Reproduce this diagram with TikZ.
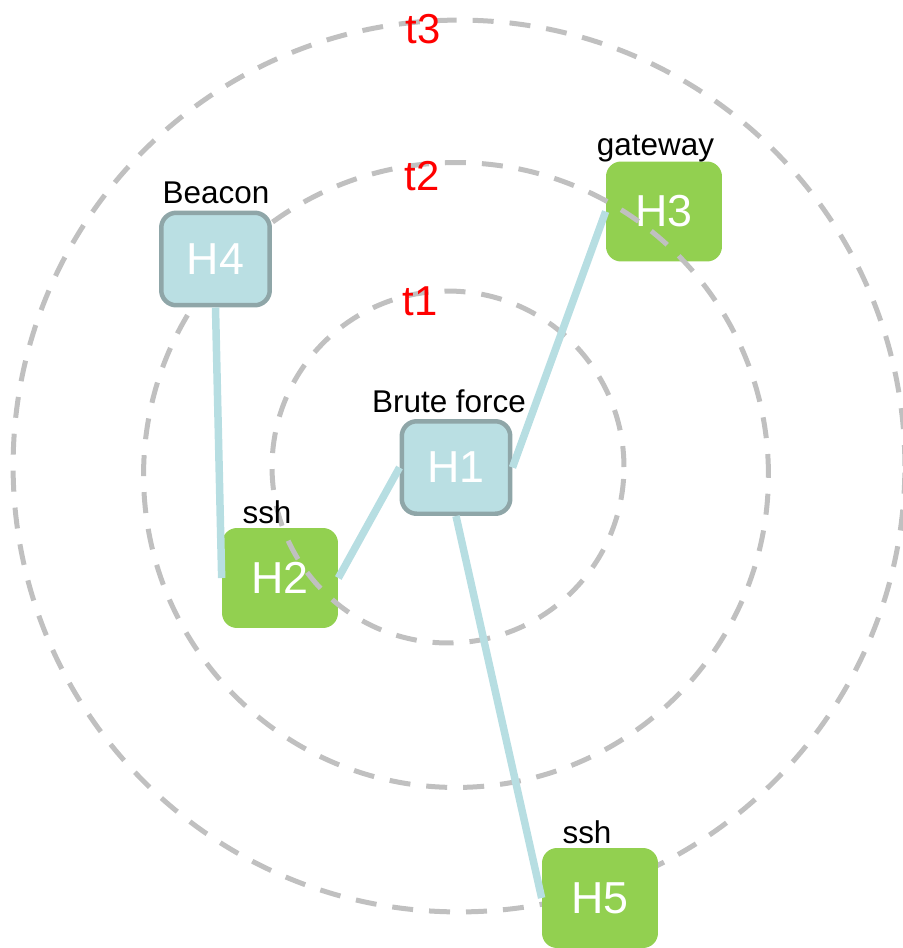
\documentclass[tikz,border=0pt]{standalone}
\usepackage{fontspec}
\setmainfont{Liberation Sans}
\definecolor{hgreen}{RGB}{146,208,80}
\definecolor{hblue}{RGB}{186,223,227}
\definecolor{hborder}{RGB}{143,166,168}
\definecolor{hedge}{RGB}{183,222,226}
\definecolor{ringgray}{RGB}{192,192,192}
\tikzset{
  ring/.style={draw=ringgray, line width=0.1cm, dash pattern=on 0.42cm off 0.32cm},
  hostbox/.style={rectangle, rounded corners=0.3cm, text=white, font=\fontsize{25.5}{30}\selectfont, inner sep=0pt},
  greenhost/.style={hostbox, fill=hgreen, minimum width=2.32cm, minimum height=2.0cm},
  bluehost/.style={hostbox, fill=hblue, draw=hborder, line width=0.09cm, minimum width=2.17cm, minimum height=1.85cm},
  link/.style={draw=hedge, line width=0.15cm},
  tag/.style={anchor=base, font=\fontsize{17.9}{20}\selectfont, inner sep=0pt},
  ringlabel/.style={anchor=base, text=red, font=\fontsize{23.8}{26}\selectfont, inner sep=0pt}
}
\begin{document}
\begin{tikzpicture}[x=0.02cm, y=-0.02cm]
\useasboundingbox (0,0) rectangle (903,948);
% outer ring under nodes
\draw[ring] (459,466) circle [radius=8.92cm];
% nodes crossed by inner rings
\node[bluehost] (h1) at (456,467.5) {H1};
\node[greenhost] (h2) at (280,578) {H2};
\node[greenhost] (h3) at (664,211.5) {H3};
\node[greenhost] (h5) at (600,898) {H5};
% inner rings
\draw[ring] (448,467) circle [radius=3.52cm];
\draw[ring] (456,475) circle [radius=6.25cm];
% node drawn over the rings
\node[bluehost] (h4) at (215.5,259) {H4};
% links
\draw[link] (h4.south) -- (h2.west);
\draw[link] (h1.west) -- (h2.east);
\draw[link] (h1.east) -- (h3.west);
\draw[link] (h1.south) -- (h5.west);
% host labels
\node[tag] (l1) at (449,412) {Brute force};
\node[tag] (l4) at (216,203) {Beacon};
\node[tag] (l2) at (267,523) {ssh};
\node[tag] (l3) at (655.5,155) {gateway};
\node[tag] (l5) at (587,843) {ssh};
% ring labels
\node[ringlabel] (t1) at (420,315) {t1};
\node[ringlabel] (t2) at (422,190) {t2};
\node[ringlabel] (t3) at (423,43) {t3};
\end{tikzpicture}
\end{document}
